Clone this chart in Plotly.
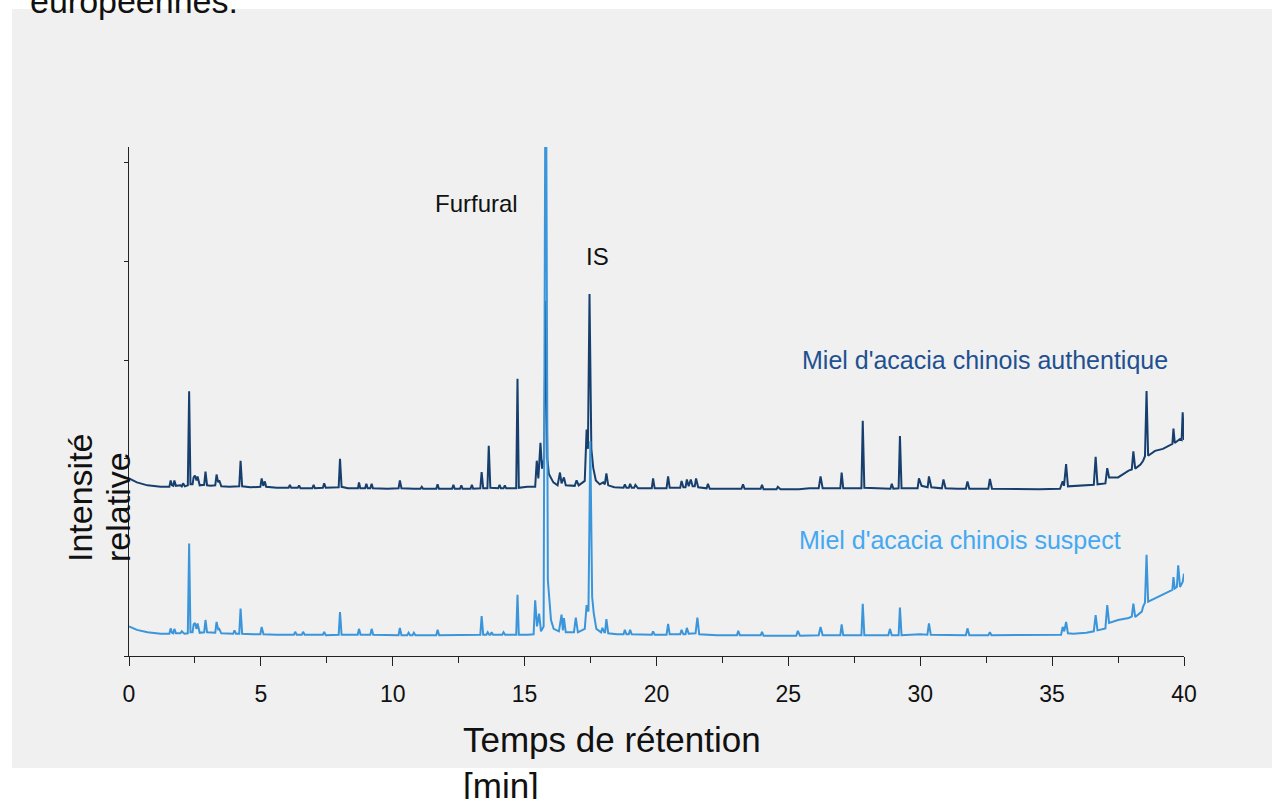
import plotly.graph_objects as go

# ---------------- data ----------------
# (retention time [min], relative intensity) for each chromatogram
auth_points = [
    (0.0, 36.0), (0.3, 35.2), (0.7, 34.6), (1.2, 34.3), (1.53, 34.3), (1.58, 35.6), (1.63, 34.6),
    (1.68, 34.5), (1.72, 35.6), (1.78, 34.5), (1.95, 34.6), (2.0, 34.4), (2.05, 35.0), (2.12, 34.4),
    (2.23, 34.6), (2.28, 53.7), (2.33, 34.8), (2.41, 34.8), (2.45, 36.2), (2.5, 36.6), (2.56, 35.6),
    (2.6, 36.4), (2.68, 34.6), (2.85, 34.7), (2.9, 37.4), (2.96, 34.6), (3.1, 34.5), (3.27, 34.6),
    (3.32, 36.8), (3.38, 35.2), (3.42, 35.6), (3.5, 34.4), (3.8, 34.3), (4.18, 34.4), (4.23, 39.6),
    (4.29, 34.4), (4.6, 34.2), (4.98, 34.3), (5.03, 36.0), (5.09, 34.5), (5.15, 35.4), (5.2, 34.3),
    (5.6, 34.1), (6.05, 34.1), (6.1, 34.7), (6.15, 34.1), (6.4, 34.1), (6.45, 34.6), (6.5, 34.0),
    (6.95, 34.0), (7.0, 34.7), (7.05, 34.0), (7.35, 34.1), (7.4, 35.0), (7.46, 34.1), (7.95, 34.2),
    (8.0, 40.0), (8.06, 34.3), (8.3, 34.0), (8.68, 34.0), (8.72, 35.2), (8.77, 34.0), (8.95, 34.0),
    (9.0, 34.9), (9.05, 34.0), (9.15, 34.0), (9.2, 34.9), (9.25, 34.0), (9.8, 33.9), (10.22, 34.0),
    (10.27, 35.6), (10.33, 34.0), (10.8, 33.9), (11.05, 33.9), (11.1, 34.3), (11.15, 33.9),
    (11.65, 33.9), (11.7, 34.8), (11.75, 33.9), (12.25, 33.9), (12.3, 34.7), (12.35, 33.9),
    (12.55, 33.9), (12.6, 34.6), (12.65, 33.9), (12.95, 33.9), (13.0, 34.7), (13.05, 33.9),
    (13.32, 34.0), (13.37, 37.3), (13.43, 34.0), (13.59, 34.0), (13.64, 42.6), (13.7, 34.1),
    (14.0, 34.0), (14.05, 34.7), (14.1, 34.0), (14.2, 34.0), (14.25, 34.6), (14.3, 34.0),
    (14.68, 34.0), (14.73, 56.2), (14.78, 34.1), (15.1, 34.3), (15.4, 34.3), (15.46, 39.6),
    (15.52, 36.0), (15.6, 43.2), (15.66, 38.0), (15.74, 40.0), (15.8, 72.0), (15.86, 40.0),
    (15.92, 36.9), (16.09, 35.2), (16.25, 34.6), (16.34, 37.2), (16.4, 35.0), (16.49, 36.2),
    (16.56, 34.6), (16.9, 34.5), (16.97, 35.6), (17.05, 34.6), (17.28, 35.5), (17.35, 45.9),
    (17.4, 42.0), (17.46, 73.4), (17.53, 42.0), (17.6, 38.2), (17.7, 35.6), (17.85, 34.8),
    (17.98, 35.2), (18.04, 34.8), (18.1, 37.0), (18.17, 34.6), (18.4, 34.2), (18.75, 34.1),
    (18.8, 34.8), (18.86, 34.1), (18.95, 34.1), (19.0, 34.9), (19.06, 34.1), (19.15, 34.1),
    (19.2, 34.7), (19.3, 34.0), (19.82, 34.0), (19.87, 36.0), (19.93, 34.0), (20.38, 34.0),
    (20.44, 36.4), (20.5, 34.1), (20.9, 34.1), (20.95, 35.5), (21.02, 34.2), (21.1, 34.2),
    (21.15, 35.8), (21.22, 34.4), (21.3, 35.8), (21.37, 34.4), (21.45, 34.4), (21.5, 36.0),
    (21.58, 34.2), (21.9, 34.0), (21.95, 34.9), (22.02, 33.9), (22.6, 33.9), (23.22, 33.9),
    (23.28, 34.8), (23.34, 33.9), (23.95, 33.9), (24.0, 34.7), (24.06, 33.8), (24.55, 33.8),
    (24.6, 34.3), (24.7, 33.8), (25.4, 33.8), (25.8, 34.0), (26.15, 34.0), (26.22, 36.4),
    (26.3, 34.0), (26.97, 34.0), (27.02, 37.2), (27.08, 34.0), (27.77, 34.0), (27.82, 47.7),
    (27.88, 34.1), (28.5, 33.9), (28.87, 33.9), (28.92, 34.9), (28.98, 33.9), (29.18, 34.0),
    (29.23, 44.6), (29.29, 34.0), (29.9, 34.0), (29.95, 36.0), (30.05, 34.5), (30.28, 34.2),
    (30.33, 36.4), (30.42, 34.2), (30.82, 34.0), (30.88, 35.8), (30.96, 34.0), (31.4, 33.9),
    (31.73, 33.9), (31.79, 35.4), (31.86, 33.9), (32.58, 33.9), (32.64, 35.9), (32.72, 33.9),
    (33.5, 33.8), (34.5, 33.8), (35.3, 33.9), (35.4, 35.4), (35.45, 34.5), (35.53, 38.9),
    (35.6, 34.4), (36.0, 34.5), (36.58, 34.7), (36.65, 40.4), (36.72, 34.8), (37.02, 35.0),
    (37.09, 38.1), (37.16, 36.2), (37.5, 36.2), (37.9, 37.6), (38.02, 37.8), (38.08, 41.5),
    (38.15, 38.0), (38.35, 38.8), (38.45, 39.6), (38.52, 40.5), (38.58, 53.7), (38.64, 40.6),
    (38.9, 41.6), (39.2, 42.0), (39.5, 42.9), (39.56, 43.0), (39.6, 46.1), (39.65, 43.2),
    (39.85, 44.0), (39.91, 43.8), (39.95, 49.4), (40.0, 43.8),
]

susp_points = [
    (0.0, 6.0), (0.3, 5.3), (0.7, 4.8), (1.2, 4.5), (1.53, 4.5), (1.58, 5.6), (1.63, 4.7),
    (1.68, 4.6), (1.72, 5.5), (1.78, 4.6), (1.95, 4.6), (2.0, 5.0), (2.1, 4.5), (2.23, 4.6),
    (2.28, 22.8), (2.33, 4.8), (2.41, 4.8), (2.45, 6.4), (2.5, 6.7), (2.56, 5.5), (2.6, 6.6),
    (2.68, 4.7), (2.85, 4.8), (2.9, 7.3), (2.96, 4.8), (3.27, 4.7), (3.32, 6.9), (3.38, 5.4),
    (3.42, 5.5), (3.5, 4.6), (3.95, 4.5), (4.0, 5.2), (4.06, 4.5), (4.18, 4.5), (4.23, 9.6),
    (4.29, 4.5), (4.7, 4.4), (4.98, 4.4), (5.03, 5.9), (5.1, 4.4), (5.6, 4.3), (6.25, 4.3),
    (6.3, 4.9), (6.36, 4.3), (6.55, 4.3), (6.6, 4.9), (6.66, 4.3), (7.35, 4.3), (7.4, 4.9),
    (7.46, 4.2), (7.95, 4.3), (8.0, 8.9), (8.06, 4.3), (8.4, 4.3), (8.67, 4.3), (8.72, 5.5),
    (8.78, 4.3), (9.15, 4.3), (9.2, 5.5), (9.26, 4.3), (9.8, 4.2), (10.22, 4.2), (10.27, 5.7),
    (10.33, 4.2), (10.55, 4.2), (10.6, 4.7), (10.66, 4.2), (10.75, 4.2), (10.8, 4.7), (10.86, 4.2),
    (11.65, 4.2), (11.7, 5.3), (11.76, 4.2), (12.5, 4.2), (13.32, 4.3), (13.37, 8.1), (13.43, 4.3),
    (13.55, 4.3), (13.6, 4.8), (13.66, 4.3), (13.7, 4.3), (13.75, 4.8), (13.8, 4.3), (14.15, 4.3),
    (14.2, 4.8), (14.26, 4.3), (14.68, 4.3), (14.73, 12.4), (14.78, 4.3), (15.1, 4.3), (15.34, 4.4),
    (15.4, 11.3), (15.47, 6.0), (15.55, 8.6), (15.62, 5.0), (15.72, 6.0), (15.8, 140.0),
    (15.88, 15.4), (16.0, 7.3), (16.1, 5.5), (16.3, 5.0), (16.4, 8.4), (16.45, 5.2), (16.49, 7.7),
    (16.56, 4.8), (16.87, 4.8), (16.94, 7.8), (17.02, 4.8), (17.28, 5.5), (17.35, 10.3),
    (17.42, 9.0), (17.49, 43.6), (17.56, 12.0), (17.62, 8.7), (17.72, 5.5), (17.9, 4.8),
    (17.95, 5.7), (18.02, 4.8), (18.05, 4.8), (18.1, 7.5), (18.17, 4.6), (18.5, 4.4), (18.75, 4.4),
    (18.8, 5.3), (18.86, 4.4), (18.95, 4.4), (19.0, 5.3), (19.06, 4.4), (19.5, 4.3), (19.82, 4.3),
    (19.87, 5.0), (19.93, 4.3), (20.38, 4.3), (20.44, 6.5), (20.5, 4.4), (20.9, 4.4), (20.95, 5.3),
    (21.02, 4.4), (21.1, 4.4), (21.15, 5.7), (21.22, 4.5), (21.48, 4.6), (21.55, 7.8), (21.62, 4.4),
    (22.3, 4.2), (23.05, 4.2), (23.1, 5.1), (23.16, 4.2), (23.95, 4.2), (24.0, 4.9), (24.06, 4.1),
    (24.8, 4.1), (25.3, 4.1), (25.36, 5.1), (25.44, 4.1), (26.15, 4.2), (26.22, 5.9), (26.3, 4.2),
    (26.97, 4.2), (27.02, 6.4), (27.08, 4.2), (27.77, 4.2), (27.82, 10.6), (27.88, 4.2),
    (28.5, 4.2), (28.79, 4.2), (28.85, 5.5), (28.92, 4.2), (29.18, 4.2), (29.23, 9.8), (29.29, 4.2),
    (30.0, 4.4), (30.27, 4.3), (30.33, 6.6), (30.4, 4.3), (31.0, 4.2), (31.73, 4.2), (31.79, 5.6),
    (31.86, 4.2), (32.58, 4.2), (32.64, 4.8), (32.7, 4.2), (33.5, 4.2), (34.5, 4.2), (35.34, 4.3),
    (35.4, 5.9), (35.46, 5.0), (35.53, 6.9), (35.6, 4.6), (35.8, 4.5), (36.3, 4.7), (36.58, 5.0),
    (36.65, 8.3), (36.72, 5.2), (37.02, 5.6), (37.09, 10.3), (37.16, 6.7), (37.5, 7.3),
    (37.9, 7.7), (38.02, 8.0), (38.08, 10.6), (38.15, 7.9), (38.4, 9.0), (38.45, 10.0),
    (38.52, 10.8), (38.58, 20.5), (38.64, 11.0), (38.9, 11.7), (39.2, 12.5), (39.5, 13.3),
    (39.56, 13.4), (39.6, 16.0), (39.65, 13.7), (39.73, 14.0), (39.78, 18.4), (39.85, 14.0),
    (39.95, 15.0), (40.0, 16.7),
]

x_ticks = [0, 5, 10, 15, 20, 25, 30, 35, 40]
x_tick_labels = ["0", "5", "10", "15", "20", "25", "30", "35", "40"]
y_ticks = [0, 20, 40, 60, 80, 100]

label_auth = "Miel d'acacia chinois authentique"
label_susp = "Miel d'acacia chinois suspect"
x_title_1 = "Temps de rétention"
x_title_2 = "[min]"
y_title_1 = "Intensité"
y_title_2 = "relative"
peak_furfural = "Furfural"
peak_is = "IS"
top_text = "européennes."

auth_time = [p[0] for p in auth_points]
auth_int = [p[1] for p in auth_points]
susp_time = [p[0] for p in susp_points]
susp_int = [p[1] for p in susp_points]

# ---------------- layout geometry ----------------
W, H = 1283, 799
L, R, T, B = 129, 1184, 147, 656  # plot area in pixels


def px_x(px):
    return (px - L) / (R - L)


def px_y(py):
    return (B - py) / (B - T)


FONT = "Liberation Sans, Arial, sans-serif"
C_AUTH_LINE = "#163f6e"
C_SUSP_LINE = "#3b95da"
C_AUTH_TXT = "#1f5190"
C_SUSP_TXT = "#45a8f2"

fig = go.Figure()
fig.add_trace(go.Scatter(x=auth_time, y=auth_int, mode="lines",
                         line=dict(color=C_AUTH_LINE, width=2), name=label_auth,
                         showlegend=False))
fig.add_trace(go.Scatter(x=susp_time, y=susp_int, mode="lines",
                         line=dict(color=C_SUSP_LINE, width=2), name=label_susp,
                         showlegend=False))

# grey panel background
fig.add_shape(type="rect", xref="paper", yref="paper",
              x0=px_x(12), x1=px_x(1272), y0=px_y(768), y1=px_y(9),
              fillcolor="#f0f0f0", line=dict(width=0), layer="below")

ann = []


def add_text(text, px, py, size, color="#111111", xanchor="center", angle=0):
    ann.append(dict(text=text, xref="paper", yref="paper", x=px_x(px), y=px_y(py),
                    xanchor=xanchor, yanchor="middle", showarrow=False, textangle=angle,
                    font=dict(family=FONT, size=size, color=color)))


add_text(top_text, 28, 1, 34, xanchor="left")
add_text(peak_furfural, 476, 204, 24)
add_text(peak_is, 597, 256, 24)
add_text(label_auth, 985, 360, 25, color=C_AUTH_TXT)
add_text(label_susp, 960, 540, 25, color=C_SUSP_TXT)
add_text(x_title_1, 461, 739, 35, xanchor="left")
add_text(x_title_2, 461, 785, 35, xanchor="left")
add_text(y_title_1, 80, 498, 34, angle=-90)
add_text(y_title_2, 118, 507, 34, angle=-90)

fig.update_layout(
    width=W, height=H, autosize=False,
    margin=dict(l=L, r=W - R, t=T, b=H - B, pad=0),
    paper_bgcolor="white", plot_bgcolor="#f0f0f0",
    font=dict(family=FONT, color="#111111"),
    annotations=ann,
    xaxis=dict(range=[0, 40], tickvals=x_ticks, ticktext=x_tick_labels,
               showgrid=False, zeroline=False, showline=True, linecolor="#222222",
               linewidth=1, ticks="outside", ticklen=9, tickwidth=1, tickcolor="#222222",
               tickfont=dict(size=23, color="#111111", family=FONT),
               ticklabelstandoff=8,
               minor=dict(ticks="outside", ticklen=6, dtick=2.5, tick0=0,
                          tickcolor="#222222", tickwidth=1, showgrid=False)),
    yaxis=dict(range=[0, 103.2], tickvals=y_ticks, showticklabels=False,
               showgrid=False, zeroline=False, showline=True, linecolor="#222222",
               linewidth=1, ticks="outside", ticklen=4, tickwidth=1, tickcolor="#222222"),
)

fig.write_html("out.html", config={"displayModeBar": False},
               post_script="document.body.style.margin='0';document.body.style.overflow='hidden';")
